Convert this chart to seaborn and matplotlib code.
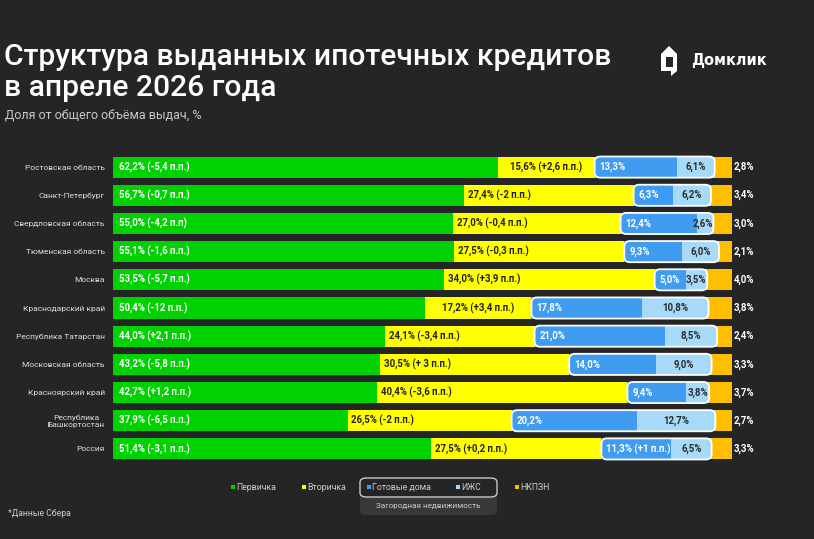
import numpy as np
import pandas as pd
import matplotlib
matplotlib.use("Agg")
import matplotlib.pyplot as plt
import seaborn as sns
from matplotlib.patches import FancyBboxPatch, Polygon, Rectangle

# data
regions = ["Ростовская область", "Санкт-Петербург", "Свердловская область",
           "Тюменская область", "Москва", "Краснодарский край",
           "Республика Татарстан", "Московская область", "Красноярский край",
           "Республика\nБашкортостан", "Россия"]
primary = [62.2, 56.7, 55.0, 55.1, 53.5, 50.4, 44.0, 43.2, 42.7, 37.9, 51.4]
primary_delta = ["-5,4 п.п.", "-0,7 п.п.", "-4,2 п.п", "-1,6 п.п.", "-5,7 п.п.", "-12 п.п.",
                 "+2,1 п.п.", "-5,8 п.п.", "+1,2 п.п.", "-6,5 п.п.", "-3,1 п.п."]
secondary = [15.6, 27.4, 27.0, 27.5, 34.0, 17.2, 24.1, 30.5, 40.4, 26.5, 27.5]
secondary_delta = ["+2,6 п.п.", "-2 п.п.", "-0,4 п.п.", "-0,3 п.п.", "+3,9 п.п.", "+3,4 п.п.",
                   "-3,4 п.п.", "+ 3 п.п.", "-3,6 п.п.", "-2 п.п.", "+0,2 п.п."]
ready = [13.3, 6.3, 12.4, 9.3, 5.0, 17.8, 21.0, 14.0, 9.4, 20.2, 11.3]
ready_delta = ["", "", "", "", "", "", "", "", "", "", "+1 п.п."]
izhs = [6.1, 6.2, 2.6, 6.0, 3.5, 10.8, 8.5, 9.0, 3.8, 12.7, 6.5]
nkpzn = [2.8, 3.4, 3.0, 2.1, 4.0, 3.8, 2.4, 3.3, 3.7, 2.7, 3.3]

legend_labels = ["Первичка", "Вторичка", "Готовые дома", "ИЖС", "НКПЗН"]

BG = "#252525"
C_GREEN = "#00d100"
C_YELLOW = "#ffff00"
C_BLUE = "#3f9cf0"
C_LBLUE = "#a6daf8"
C_ORANGE = "#ffbf00"

sns.set_theme(style="dark")
plt.rcParams["font.family"] = ["Roboto", "DejaVu Sans"]

W, H = 814, 539
def fx(px):
    return px / W
def fy(py):
    return 1 - py / H

def pct(v):
    return f"{v:.1f}".replace(".", ",") + "%"

df = pd.DataFrame({"region": regions, "p": primary, "s": secondary,
                   "r": ready, "i": izhs, "n": nkpzn})
df["c1"] = df["p"]
df["c2"] = df["c1"] + df["s"]
df["c3"] = df["c2"] + df["r"]
df["c4"] = df["c3"] + df["i"]
df["c5"] = df["c4"] + df["n"]

fig = plt.figure(figsize=(W / 100, H / 100), dpi=100, facecolor=BG)
ax = fig.add_axes([fx(113), fy(463), 619 / W, 310 / H])
ax.set_facecolor(BG)

bw = 0.75
for col, c in [("c5", C_ORANGE), ("c4", C_LBLUE), ("c3", C_BLUE),
               ("c2", C_YELLOW), ("c1", C_GREEN)]:
    sns.barplot(data=df, x=col, y="region", color=c, orient="h", width=bw,
                saturation=1, linewidth=0, ax=ax)

ax.set_xlim(0, 100)
ax.set_ylim(10.5, -0.5)
ax.set_xlabel("")
ax.set_ylabel("")
ax.set_xticks([])
for s in ax.spines.values():
    s.set_visible(False)
ax.tick_params(axis="y", length=0, pad=6, labelsize=6.0, labelcolor="#dddddd")
for t in ax.get_yticklabels():
    t.set_multialignment("center")

# white rounded frame around the country-house segments
asp = (619 / 100) / (310 / 11)
for k, row in df.iterrows():
    frame = FancyBboxPatch((row["c2"], k - bw / 2), row["r"] + row["i"], bw,
                           boxstyle="round,pad=0,rounding_size=0.9",
                           mutation_aspect=asp, facecolor="none",
                           edgecolor="white", linewidth=1.3, zorder=5)
    ax.add_patch(frame)

# labels
lab_kw = dict(va="center", fontsize=6.9, fontweight="bold", zorder=6)
for k, row in df.iterrows():
    ax.text(0.9, k, f"{pct(row['p'])} ({primary_delta[k]})", ha="left", color="white", **lab_kw)
    sl = f"{pct(row['s'])} ({secondary_delta[k]})"
    if row["s"] < 20:
        ax.text(row["c1"] + row["s"] / 2, k, sl, ha="center", color="#222222", **lab_kw)
    else:
        ax.text(row["c1"] + 0.6, k, sl, ha="left", color="#222222", **lab_kw)
    rl = pct(row["r"]) + (f" ({ready_delta[k]})" if ready_delta[k] else "")
    ax.text(row["c2"] + 0.8, k, rl, ha="left", color="white", **lab_kw)
    if row["i"] < 4:
        ax.text(row["c4"] - 0.1, k, pct(row["i"]), ha="right", color="#2a2a2a", **lab_kw)
    else:
        ax.text(row["c3"] + row["i"] / 2, k, pct(row["i"]), ha="center", color="#2a2a2a", **lab_kw)
    ax.text(100.3, k, pct(row["n"]), ha="left", color="white", clip_on=False, **lab_kw)

# title block
fig.text(fx(4), fy(57), "Структура выданных ипотечных кредитов", ha="left", va="center",
         fontsize=21.6, fontweight="medium", color="white")
fig.text(fx(4), fy(88), "в апреле 2026 года", ha="left", va="center",
         fontsize=21.6, fontweight="medium", color="white")
fig.text(fx(5), fy(115), "Доля от общего объёма выдач, %", ha="left", va="center",
         fontsize=9, color="#c8c8c8")

# logo
house = Polygon([(fx(661), fy(54)), (fx(669), fy(46)), (fx(677), fy(54)), (fx(677), fy(71)),
                 (fx(671), fy(76)), (fx(671), fy(71)), (fx(661), fy(71))],
                closed=True, transform=fig.transFigure, facecolor="white", edgecolor="none")
fig.patches.append(house)
fig.patches.append(Rectangle((fx(665.5), fy(67)), fx(7), 10 / H, transform=fig.transFigure,
                             facecolor=BG, edgecolor="none"))
fig.text(fx(691), fy(61), "Домклик", ha="left", va="center", fontsize=10.5,
         fontweight="bold", color="white", family="DejaVu Sans")

# legend
leg_y = fy(487)
box_top = FancyBboxPatch((fx(360), fy(497)), fx(137), 19 / H,
                         boxstyle="round,pad=0,rounding_size=0.008",
                         transform=fig.transFigure, facecolor=BG, edgecolor="#c8c8c8",
                         linewidth=1, zorder=3)
box_bot = FancyBboxPatch((fx(360), fy(515)), fx(137), 22 / H,
                         boxstyle="round,pad=0,rounding_size=0.008",
                         transform=fig.transFigure, facecolor="#383838", edgecolor="none",
                         zorder=2)
fig.patches.append(box_bot)
fig.patches.append(box_top)
for xpx, lab, c in zip([231, 302, 367, 456, 515], legend_labels,
                       [C_GREEN, C_YELLOW, C_BLUE, C_LBLUE, C_ORANGE]):
    fig.patches.append(Rectangle((fx(xpx), leg_y - 2 / H), fx(3.5), 4 / H,
                                 transform=fig.transFigure, facecolor=c, edgecolor="none",
                                 zorder=4))
    fig.text(fx(xpx + 5), leg_y, lab, ha="left", va="center", fontsize=6.3,
             color="#cccccc", zorder=5)
fig.text(fx(428), fy(506), "Загородная недвижимость", ha="center", va="center",
         fontsize=5.9, color="#cccccc", zorder=5)
fig.text(fx(8), fy(513), "*Данные Сбера", ha="left", va="center", fontsize=6.2,
         color="#cccccc")

fig.savefig("out.png", dpi=100, facecolor=BG)
